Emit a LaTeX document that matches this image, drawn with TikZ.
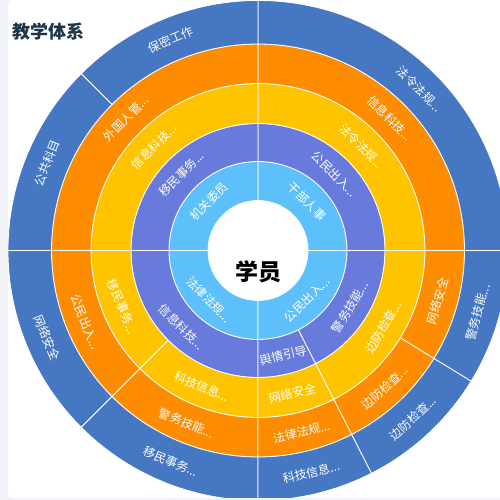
\documentclass[tikz,border=0pt]{standalone}
\usepackage{fontspec}
\setmainfont{Noto Sans CJK SC}
\usepackage{xcolor}
\usepackage{tikz}
\usetikzlibrary{calc}

\definecolor{pagegray}{HTML}{F2F3F8}
\definecolor{titleink}{HTML}{1D3549}
\definecolor{ringA}{HTML}{5EC0FA}
\definecolor{ringB}{HTML}{687ADB}
\definecolor{ringC}{HTML}{FEC400}
\definecolor{ringD}{HTML}{FE8C00}
\definecolor{ringE}{HTML}{4577C2}
\newcommand{\tdots}{...}

\begin{document}
\begin{tikzpicture}[
    x=1pt, y=1pt,
    every node/.style={inner sep=0pt},
    seglabel/.style={font=\fontsize{12}{12}\selectfont, text=white},
    segfill/.style={draw=white, line width=0.8pt}
  ]
    \useasboundingbox (0,0) rectangle (500,500);
    \fill[pagegray] (0,0) rectangle (500,500);
    \fill[white, rounded corners=5pt] (8,2) rectangle (520,500);
    \coordinate (c) at (258,249.5);

    \begin{scope}
      \clip[rounded corners=5pt] (8,2) rectangle (520,500);
      \foreach \a/\b/\ri/\ro/\col/\txt [count=\i] in {
          0/90/50/89/ringA/干部人事,
          90/180/50/89/ringA/机关委员,
          180/270/50/89/ringA/法律法规\tdots,
          270/360/50/89/ringA/公民出入\tdots,
          0/90/89/127/ringB/公民出入\tdots,
          90/180/89/127/ringB/移民事务\tdots,
          180/270/89/127/ringB/信息科技\tdots,
          270/297/89/127/ringB/舆情引导,
          297/360/89/127/ringB/警务技能\tdots,
          0/90/127/167/ringC/法令法规\tdots,
          90/180/127/167/ringC/信息科技\tdots,
          180/225/127/167/ringC/移民事务\tdots,
          225/270/127/167/ringC/科技信息\tdots,
          270/297/127/167/ringC/网络安全,
          297/360/127/167/ringC/边防检查\tdots,
          0/90/167/206.5/ringD/信息科技\tdots,
          90/180/167/206.5/ringD/外国人管\tdots,
          180/225/167/206.5/ringD/公民出入\tdots,
          225/270/167/206.5/ringD/警务技能\tdots,
          270/297/167/206.5/ringD/法律法规\tdots,
          297/328.5/167/206.5/ringD/边防检查\tdots,
          328.5/360/167/206.5/ringD/网络安全,
          0/90/206.5/250/ringE/法令法规\tdots,
          90/135/206.5/250/ringE/保密工作,
          135/180/206.5/250/ringE/公共科目,
          180/225/206.5/250/ringE/网络安全,
          225/270/206.5/250/ringE/移民事务\tdots,
          270/297/206.5/250/ringE/科技信息\tdots,
          297/328.5/206.5/250/ringE/边防检查\tdots,
          328.5/360/206.5/250/ringE/警务技能\tdots} {
        \pgfmathsetmacro{\m}{(\a+\b)/2}
        \pgfmathsetmacro{\rmid}{(\ri+\ro)/2}
        \pgfmathsetmacro{\rot}{\m<180 ? \m-90 : \m+90}
        \fill[segfill, fill=\col] ($(c)+(\a:\ri pt)$) arc[start angle=\a, end angle=\b, radius=\ri pt]
          -- ($(c)+(\b:\ro pt)$) arc[start angle=\b, end angle=\a, radius=\ro pt] -- cycle;
        \node[seglabel, rotate=\rot] (seg\i) at ($(c)+(\m:\rmid pt)$) {\txt};
      }
    \end{scope}

    \node[font=\fontsize{18}{18}\selectfont\bfseries, text=titleink] (title) at (48.5,468) {教学体系};
    \node[font=\fontsize{23}{23}\selectfont\bfseries] (core) at (258.5,228.5) {学员};
  \end{tikzpicture}
\end{document}
